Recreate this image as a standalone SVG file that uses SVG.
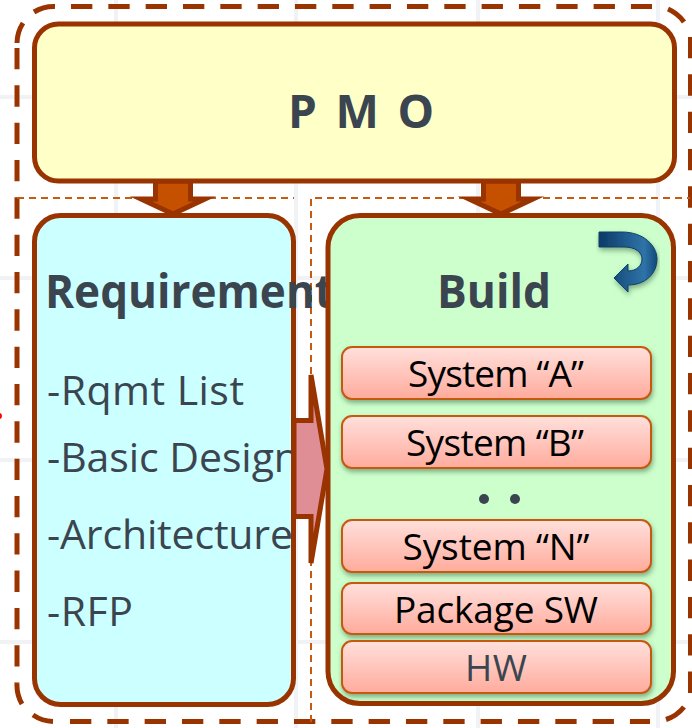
<svg xmlns="http://www.w3.org/2000/svg" width="692" height="728" viewBox="0 0 692 728">
<style>
.grid{stroke:#f0f2f6;stroke-width:4;fill:none}
.big{fill:none;stroke:#993300;stroke-width:5;stroke-dasharray:21.330 16}
.corner{fill:none;stroke:#993300;stroke-width:5}
.thin{fill:none;stroke:#c55a11;stroke-width:2;stroke-dasharray:7 5}
.arrow{stroke:#993300;stroke-width:5}
.box{stroke:#993300;stroke-width:5}
.sub{fill:url(#subg);stroke:#c55a11;stroke-width:2;filter:url(#sh)}
text{font-family:"Open Sans","Noto Sans",sans-serif}
.head{font-weight:700;font-size:46px;fill:#3a4550}
.item{font-size:41px;fill:#3a4550}
.st{font-size:37px;fill:#000;text-anchor:middle}
</style>
<defs>
<linearGradient id="subg" x1="0" y1="0" x2="0" y2="1"><stop offset="0" stop-color="#ffe0dc"/><stop offset="1" stop-color="#ffab9c"/></linearGradient>
<linearGradient id="curl" x1="0" y1="0" x2="1" y2="0"><stop offset="0" stop-color="#0b3a66"/><stop offset=".78" stop-color="#2f73a8"/><stop offset="1" stop-color="#114a7a"/></linearGradient>
<filter id="sh" x="-5%" y="-20%" width="110%" height="150%"><feDropShadow dx="1" dy="3" stdDeviation="2.500" flood-color="#3d6b4a" flood-opacity=".55"/></filter>
<clipPath id="reqclip"><rect x="0" y="330" width="293" height="398"/></clipPath>
</defs>
<rect width="692" height="728" fill="#fff"/>
<g id="grid">
<path class="grid" d="M116 0V728M296 0V728M478 0V728M658 0V728M0 97H692M0 278H692M0 460H692M0 642H692"/>
</g>
<g id="frames">
<path class="big" d="M71 6.500H652"/>
<path class="big" d="M17 48V683"/>
<path class="big" d="M690.500 37V700"/>
<path class="big" d="M70 721.500H650"/>
<path class="corner" d="M34 12A38 38 0 0 1 55 6.500M17 43A38 38 0 0 1 23 23M668 9A38 38 0 0 1 684 22M17 683A38 38 0 0 0 22 704M33 715A38 38 0 0 0 53 721.500M666 719.500A38 38 0 0 0 684 707"/>
<path class="thin" d="M17 198H294M311 722V198H690"/>
<circle cx="-1" cy="416" r="3" fill="#f00"/>
</g>
<g id="connectors">
<path class="arrow" fill="#c55000" stroke-miterlimit="10" d="M155.500 181V199H141L173 214L205 199H190.500V181Z"/>
<path class="arrow" fill="#c55000" stroke-miterlimit="10" d="M483.500 181V199H469L501 214L533 199H518.500V181Z"/>
</g>
<g id="pmo">
<rect class="box" x="34.500" y="24" width="640" height="157" rx="24" fill="#ffffc8"/>
<text x="361" y="128" text-anchor="middle" class="head" textLength="146" lengthAdjust="spacing">P M O</text>
</g>
<g id="requirement">
<rect class="box" x="34.500" y="215.500" width="259" height="489" rx="26" fill="#ccffff"/>
<text class="head" x="45" y="308" textLength="289" lengthAdjust="spacingAndGlyphs">Requirement</text>
<g clip-path="url(#reqclip)">
<text class="item" x="47" y="405" textLength="197" lengthAdjust="spacing">-Rqmt List</text>
<text class="item" x="47" y="472" textLength="252" lengthAdjust="spacing">-Basic Design</text>
<text class="item" x="47" y="549" textLength="246" lengthAdjust="spacing">-Architecture</text>
<text class="item" x="47" y="626" textLength="86" lengthAdjust="spacing">-RFP</text>
</g>
</g>
<g id="build">
<rect class="box" x="328" y="215.500" width="345.500" height="488" rx="32" fill="#ccffcc"/>
<text class="head" x="494" y="308" text-anchor="middle" textLength="114" lengthAdjust="spacingAndGlyphs">Build</text>
</g>
<g id="curl-arrow">
<path d="M599 232H622C644 232 657 246 657 259C657 274 645 285 628 285V292L614 278L628 264V271C637 271 642 265 642 259C642 252 635 247 624 247H599Z" fill="url(#curl)" stroke="#0d3f6b" stroke-width="1" filter="url(#sh)"/>
</g>
<g id="sys-a"><rect class="sub" x="342" y="347" width="309" height="52" rx="10"/><text class="st" x="496" y="387" textLength="176" lengthAdjust="spacing">System “A”</text></g>
<g id="sys-b"><rect class="sub" x="342" y="416" width="309" height="52" rx="10"/><text class="st" x="495" y="456" textLength="178" lengthAdjust="spacing">System “B”</text></g>
<g id="dots"><circle cx="484" cy="499" r="5" fill="#3a4550"/><circle cx="515" cy="499" r="5" fill="#3a4550"/></g>
<g id="sys-n"><rect class="sub" x="342" y="520" width="309" height="52" rx="10"/><text class="st" x="496" y="560" textLength="187" lengthAdjust="spacing">System “N”</text></g>
<g id="pkg"><rect class="sub" x="342" y="583" width="309" height="51" rx="10"/><text class="st" x="496" y="623" textLength="204" lengthAdjust="spacing">Package SW</text></g>
<g id="hw"><rect class="sub" x="342" y="641" width="309" height="52" rx="10"/><text class="st" x="496" y="681" style="fill:#3a4550" textLength="62" lengthAdjust="spacing">HW</text></g>
<g id="flow">
<path class="arrow" fill="#df8e96" d="M294 420.500H311V375L327 469L311 563V516.500H294Z"/>
</g>
</svg>
